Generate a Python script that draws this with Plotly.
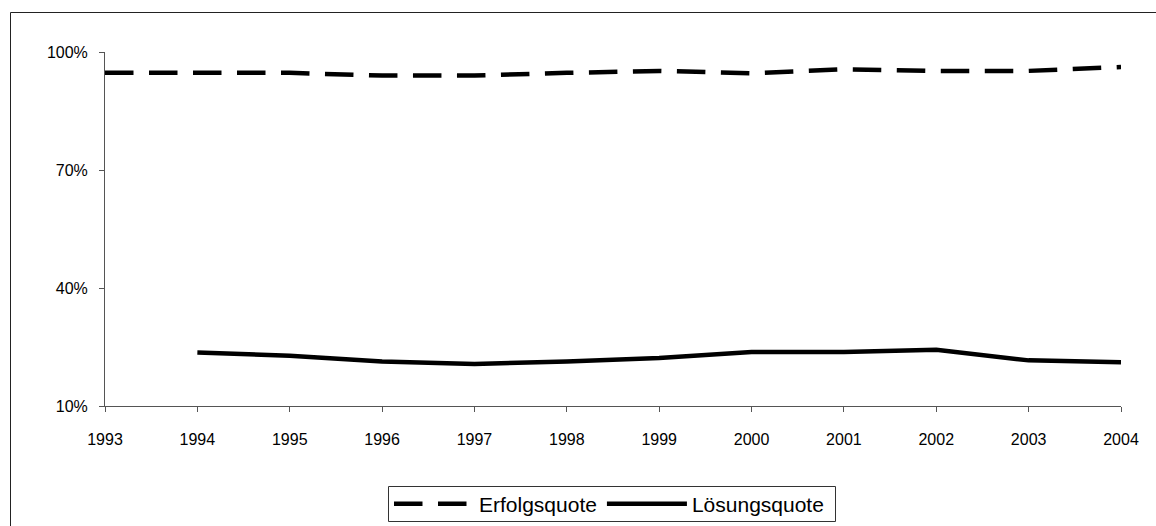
import plotly.graph_objects as go

years = list(range(1993, 2005))
erfolgsquote = [94.7, 94.7, 94.7, 94.0, 94.0, 94.7, 95.2, 94.6, 95.6, 95.2, 95.2, 96.2]
loesung_years = list(range(1994, 2005))
loesungsquote = [23.6, 22.8, 21.3, 20.7, 21.3, 22.2, 23.7, 23.7, 24.3, 21.6, 21.1]
y_tickvals = [10, 40, 70, 100]
y_ticktext = ["10%", "40%", "70%", "100%"]

FONT = "Liberation Sans, Arial, sans-serif"

fig = go.Figure()
fig.add_trace(go.Scatter(
    x=years, y=erfolgsquote, name="Erfolgsquote", mode="lines",
    line=dict(color="black", width=4.5, dash="28.5px,15.5px"),
))
fig.add_trace(go.Scatter(
    x=loesung_years, y=loesungsquote, name="Lösungsquote", mode="lines",
    line=dict(color="black", width=4.5),
))

L, R, T, B = 105, 1121, 52, 406
W, H = 1156, 526

def px2paper_x(px):
    return (px - L) / (R - L)

def px2paper_y(py):
    return (B - py) / (B - T)

# legend frame (pixel positions within the figure)
LEG_L, LEG_R, LEG_T, LEG_B = 388.5, 835.5, 486.5, 521.5

fig.update_layout(
    width=W, height=H,
    margin=dict(l=L, r=W - R, t=T, b=H - B, autoexpand=False),
    paper_bgcolor="white", plot_bgcolor="white",
    font=dict(family=FONT, size=16, color="black"),
    showlegend=True,
    legend=dict(
        orientation="h",
        xref="container", yref="container",
        x=389 / W, xanchor="left",
        y=(H - (LEG_T + LEG_B) / 2) / H, yanchor="middle",
        borderwidth=0, bgcolor="rgba(0,0,0,0)",
        font=dict(family=FONT, size=21, color="black"),
        itemwidth=80, traceorder="normal",
    ),
    xaxis=dict(
        range=[1993, 2004], tickmode="array", tickvals=years,
        ticks="outside", ticklen=5, tickcolor="#555", tickwidth=1,
        showline=True, linecolor="#555", linewidth=1,
        showgrid=False, zeroline=False, ticklabelstandoff=14,
        automargin=False,
    ),
    yaxis=dict(
        range=[10, 100], tickmode="array", tickvals=y_tickvals, ticktext=y_ticktext,
        ticks="outside", ticklen=5, tickcolor="#555", tickwidth=1,
        showline=True, linecolor="#555", linewidth=1,
        showgrid=False, zeroline=False, ticklabelstandoff=8,
        automargin=False,
    ),
    shapes=[
        dict(
            type="rect", xref="paper", yref="paper",
            x0=px2paper_x(10.5), x1=px2paper_x(1190),
            y0=px2paper_y(570), y1=px2paper_y(12.5),
            line=dict(color="#222", width=1), fillcolor="rgba(0,0,0,0)",
            layer="below",
        ),
        dict(
            type="rect", xref="paper", yref="paper",
            x0=px2paper_x(LEG_L), x1=px2paper_x(LEG_R),
            y0=px2paper_y(LEG_B), y1=px2paper_y(LEG_T),
            line=dict(color="#333", width=1), fillcolor="white",
            layer="below",
        ),
    ],
)

fig.write_html(
    "out.html",
    config={"displayModeBar": False},
    post_script="document.body.style.margin='0';",
)
